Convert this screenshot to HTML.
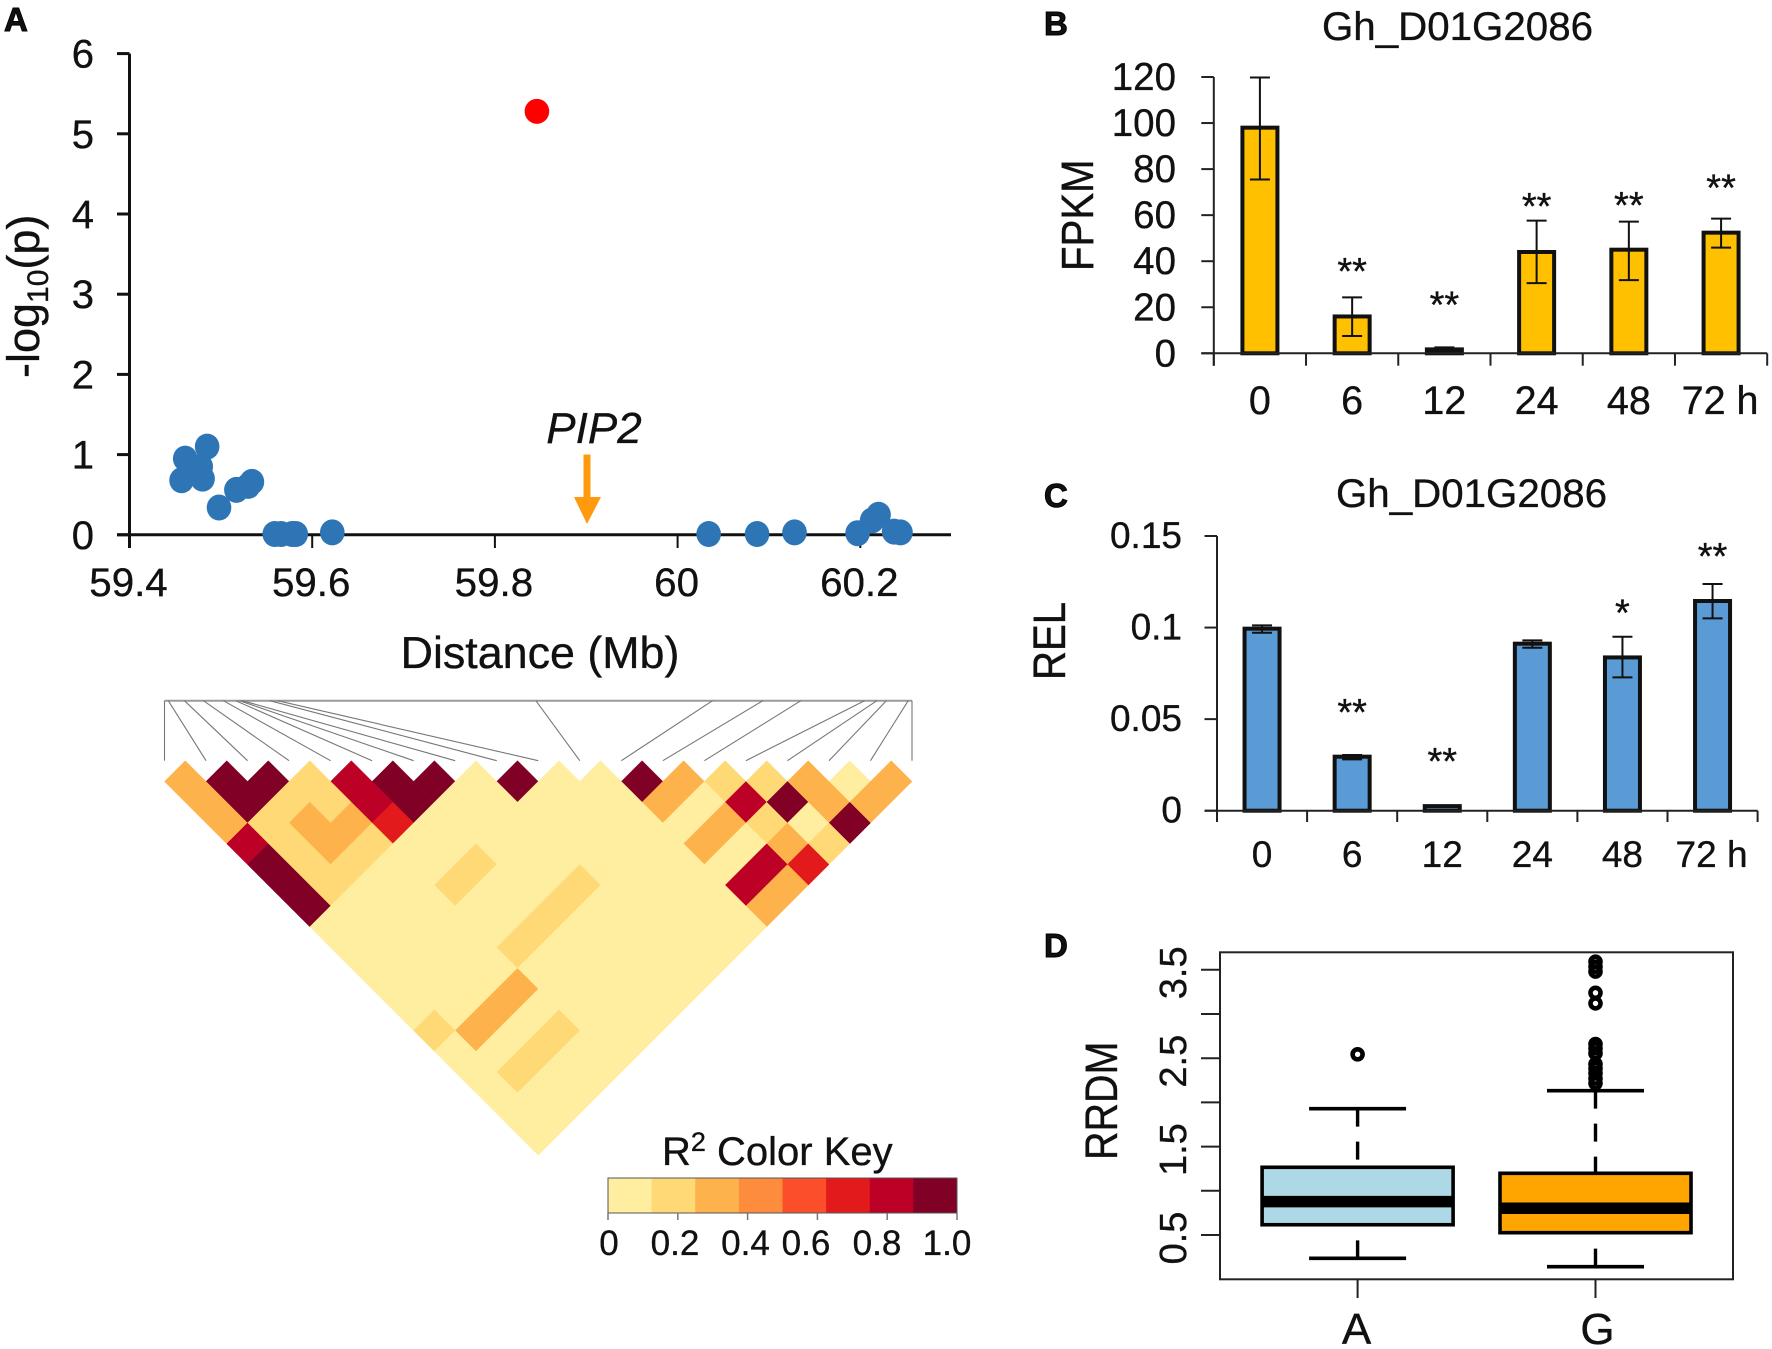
<!DOCTYPE html>
<html>
<head>
<meta charset="utf-8">
<title>Association, expression and haplotype panels</title>
<style>
html,body{margin:0;padding:0;background:#fff;}
svg{display:block;}
text{font-family:"Liberation Sans",Arial,sans-serif;fill:#111;stroke:#111;stroke-width:0.35px;}
</style>
</head>
<body>
<svg id="fig" xmlns="http://www.w3.org/2000/svg" width="1772" height="1349" viewBox="0 0 1772 1349">
  <rect x="0" y="0" width="1772" height="1349" fill="#fff"/>

  <g id="panelA">
    <text x="4" y="31" font-size="33" font-weight="bold" style="stroke:#000;stroke-width:1px">A</text>
    <text transform="translate(39 378) rotate(-90)" font-size="45">-log<tspan dy="9" font-size="30">10</tspan><tspan dy="-9">(p)</tspan></text>
    <text x="540" y="668" font-size="44.8" text-anchor="middle">Distance (Mb)</text>
    <text x="594" y="443" font-size="44" font-style="italic" text-anchor="middle">PIP2</text>
    <g>
      <rect x="583.5" y="454.5" width="7" height="43" fill="#ff9a0e"/>
      <polygon points="574,497 601,497 587,524" fill="#ff9a0e"/>
    </g>
  </g>

  <g id="panelLD"></g>

  <g id="colorKey">
    <text x="662" y="1165" font-size="40">R<tspan dy="-14" font-size="27">2</tspan><tspan dy="14"> Color Key</tspan></text>
    <text x="609" y="1255" font-size="35" text-anchor="middle">0</text>
    <text x="675" y="1255" font-size="35" text-anchor="middle">0.2</text>
    <text x="745.5" y="1255" font-size="35" text-anchor="middle">0.4</text>
    <text x="806" y="1255" font-size="35" text-anchor="middle">0.6</text>
    <text x="877" y="1255" font-size="35" text-anchor="middle">0.8</text>
    <text x="947" y="1255" font-size="35" text-anchor="middle">1.0</text>
  </g>

  <g id="panelB">
    <text x="1044" y="35" font-size="33" font-weight="bold" style="stroke:#000;stroke-width:1px">B</text>
    <text x="1457.5" y="40" font-size="40.3" text-anchor="middle">Gh_D01G2086</text>
    <text transform="translate(1093 271) rotate(-90) scale(1.03 1.16)" font-size="39">FPKM</text>
  </g>

  <g id="panelC">
    <text x="1044" y="507" font-size="33" font-weight="bold" style="stroke:#000;stroke-width:1px">C</text>
    <text x="1471.5" y="507" font-size="40.3" text-anchor="middle">Gh_D01G2086</text>
    <text transform="translate(1065 680) rotate(-90) scale(1.03 1.16)" font-size="39">REL</text>
  </g>

  <g id="panelD">
    <text x="1044" y="957" font-size="33" font-weight="bold" style="stroke:#000;stroke-width:1px">D</text>
    <text transform="translate(1117 1160) rotate(-90) scale(1.0 1.14)" font-size="39.5">RRDM</text>
  </g>
</svg>

<script>
// ---------- Panel A data ----------
const gwasMb = [59.485,59.461,59.478,59.457,59.480,59.498,59.517,59.534,59.530,59.559,59.566,59.578,59.582,59.622,60.034,60.087,60.128,60.197,60.213,60.220,60.237,60.244];
const gwasLogP = [1.10,0.95,0.85,0.68,0.70,0.34,0.56,0.66,0.61,0.01,0.01,0.01,0.01,0.03,0.01,0.01,0.03,0.02,0.18,0.25,0.04,0.03];
const leadMb = [59.846];
const leadLogP = [5.28];
const gwasXTicks = [59.4,59.6,59.8,60,60.2];
const gwasXLabels = ['59.4','59.6','59.8','60','60.2'];
const gwasYTicks = [0,1,2,3,4,5,6];

// ---------- LD heatmap data ----------
const snpMb = [59.457,59.461,59.478,59.498,59.519,59.532,59.536,59.539,59.568,59.576,59.848,60.034,60.087,60.127,60.194,60.207,60.217,60.240,60.244];
const ldRow1 = [.3,.95,.95,.2,.8,.95,.95,.05,.95,.05,.05,.95,.3,.2,.2,.3,.05,.3];
const ldRow2 = [.3,.95,.2,.2,.8,.95,.05,.05,.05,.05,.05,.3,.05,.8,.95,.3,.3];
const ldRow3 = [.3,.2,.3,.3,.7,.05,.05,.05,.05,.05,.05,.05,.3,.2,.05,.95];
const ldRow4 = [.8,.2,.3,.2,.05,.05,.05,.05,.05,.05,.05,.3,.05,.3,.2];
const ldRow5 = [.95,.2,.2,.05,.05,.2,.05,.05,.05,.05,.05,.05,.8,.7];
const ldRow6 = [.95,.2,.05,.05,.2,.05,.05,.2,.05,.05,.05,.8,.3];
const ldRow7 = [.95,.05,.05,.05,.05,.05,.2,.05,.05,.05,.05,.3];
const ldRow8 = [.05,.05,.05,.05,.05,.2,.05,.05,.05,.05,.05];
const ldRow9 = [.05,.05,.05,.05,.2,.05,.05,.05,.05,.05];
const ldRow10 = [.05,.05,.05,.05,.05,.05,.05,.05,.05];
const ldRow11 = [.05,.05,.05,.3,.05,.05,.05,.05];
const ldRow12 = [.05,.05,.3,.05,.05,.05,.05];
const ldRow13 = [.2,.3,.05,.2,.05,.05];
const ldRow14 = [.05,.05,.2,.05,.05];
const ldRow15 = [.05,.2,.05,.05];
const ldRow16 = [.05,.05,.05];
const ldRow17 = [.05,.05];
const ldRow18 = [.05];
const ldRows = [ldRow1,ldRow2,ldRow3,ldRow4,ldRow5,ldRow6,ldRow7,ldRow8,ldRow9,ldRow10,ldRow11,ldRow12,ldRow13,ldRow14,ldRow15,ldRow16,ldRow17,ldRow18];
const keyColors = ['#ffeda0','#fed976','#feb24c','#fd8d3c','#fc4e2a','#e31a1c','#bd0026','#800026'];
const keyTicks = [0,0.2,0.4,0.6,0.8,1];

// ---------- Panel B data ----------
const fpkmCategories = ['0','6','12','24','48','72 h'];
const fpkmValues = [98,16,1.7,44,45,52.4];
const fpkmErrHigh = [119.8,24.3,2.6,57.6,57.2,58.5];
const fpkmErrLow = [75.5,7.5,0.8,30.5,31.8,45.9];
const fpkmStars = ['','**','**','**','**','**'];
const fpkmStarLevels = [0,40.5,26,68.7,69.1,76.7];
const fpkmYTicks = [0,20,40,60,80,100,120];
const fpkmYLabels = ['0','20','40','60','80','100','120'];

// ---------- Panel C data ----------
const relCategories = ['0','6','12','24','48','72 h'];
const relValues = [0.0994,0.0295,0.0025,0.0912,0.0837,0.1145];
const relErrHigh = [0.1012,0.0304,0.0025,0.093,0.095,0.1238];
const relErrLow = [0.0972,0.028,0.0025,0.089,0.0728,0.105];
const relStars = ['','**','**','','*','**'];
const relStarLevels = [0,0.06,0.0331,0,0.1141,0.145];
const relYTicks = [0,0.05,0.1,0.15];
const relYLabels = ['0','0.05','0.1','0.15'];

// ---------- Panel D data ----------
const alleleLabels = ['A','G'];
const boxQ1 = [0.616,0.526];
const boxMedian = [0.877,0.802];
const boxQ3 = [1.266,1.198];
const whiskerLow = [0.236,0.142];
const whiskerHigh = [1.929,2.133];
const outliersA = [2.544];
const outliersG = [3.592,3.535,3.48,3.24,3.12,2.66,2.61,2.555,2.434,2.385,2.33,2.27,2.216];
const boxFills = ['#add8e6','#ffa500'];
const rrdmTicks = [0.5,1,1.5,2,2.5,3,3.5];
const rrdmTickLabels = ['0.5','','1.5','','2.5','','3.5'];

// ---------- helpers ----------
const NS = 'http://www.w3.org/2000/svg';
function mk(tag, attrs, parent){
  const e = document.createElementNS(NS, tag);
  for (const k in attrs) e.setAttribute(k, attrs[k]);
  parent.appendChild(e);
  return e;
}
function line(parent,x1,y1,x2,y2,stroke,w){
  return mk('line',{x1:x1,y1:y1,x2:x2,y2:y2,stroke:stroke,'stroke-width':w},parent);
}
function label(parent,x,y,str,size,anchor){
  const e = mk('text',{x:x,y:y,'font-size':size,'text-anchor':anchor},parent);
  e.textContent = str;
  return e;
}

// ---------- Panel A ----------
(function(){
  const p = document.getElementById('panelA');
  const xA = v => 129.5 + (v-59.4)/0.2*182.7;
  const yA = v => 534.8 - v*80.2;
  let el;
  el = line(p,129.5,yA(6),129.5,548,'#111',3);
  
  
  el = line(p,117,yA(0),951,yA(0),'#111',3);
  
  
  gwasYTicks.forEach(t=>{
    let e = line(p,117,yA(t),129.5,yA(t),'#111',3);
    
    
    e = label(p,94,yA(t)+14,String(t),40,'end');
    
    
  });
  gwasXTicks.forEach((t,i)=>{
    let e = line(p,xA(t),yA(0),xA(t),548,'#111',2);
    
    
    e = label(p,xA(t)-1,596,gwasXLabels[i],40.3,'middle');
    
    
  });
  gwasMb.forEach((m,i)=>{
    const c = mk('ellipse',{cx:xA(m),cy:yA(gwasLogP[i]),rx:12.3,ry:13,fill:'#2e75b6'},p);
    
    
  });
  leadMb.forEach((m,i)=>{
    const c = mk('ellipse',{cx:xA(m),cy:yA(leadLogP[i]),rx:12.3,ry:12.5,fill:'#ff0000'},p);
    
    
  });
})();

// ---------- LD heatmap ----------
(function(){
  const p = document.getElementById('panelLD');
  const left = 164.5, right = 912, top = 700.7, conn = 760.7;
  const h = (right-left)/36;
  const first = snpMb[0], last = snpMb[snpMb.length-1];
  const xTop = m => left + (m-first)/(last-first)*(right-left);
  const slot = j => left + 2*j*h;
  let el = line(p,left,top,right,top,'#9a9a9a',2);
  
  
  snpMb.forEach((m,j)=>{
    const e = line(p,xTop(m),top,slot(j),conn,'#777',1.1);
    
    
  });
  ldRows.forEach((row,r)=>{
    const d = r+1;
    row.forEach((v,i)=>{
      const cx = left + (2*i+d)*h;
      const cy = conn + d*h;
      const col = keyColors[Math.min(7,Math.floor(v*8))];
      const pts = [[cx,cy-h],[cx+h,cy],[cx,cy+h],[cx-h,cy]].map(q=>q.join(',')).join(' ');
      const c = mk('polygon',{points:pts,fill:col,stroke:col,'stroke-width':0.5},p);
      
      
    });
  });

  const k = document.getElementById('colorKey');
  const kx0 = 608, kx1 = 957, ky0 = 1178, ky1 = 1213;
  const kw = (kx1-kx0)/keyColors.length;
  keyColors.forEach((c,i)=>{
    const r = mk('rect',{x:kx0+i*kw,y:ky0,width:kw+0.4,height:ky1-ky0,fill:c},k);
    
    
  });
  const frame = mk('rect',{x:kx0,y:ky0,width:kx1-kx0,height:ky1-ky0,fill:'none',stroke:'#555','stroke-width':1},k);
  
  
  keyTicks.forEach(t=>{
    const x = kx0+t*(kx1-kx0);
    const e = line(k,x,ky1,x,ky1+7,'#777',1.5);
    
    
  });
})();

// ---------- Bar panels ----------
function drawBars(p,cfg,cats,vals,hi,lo,stars,starLv,yTicks,yLabels){
  const y = v => cfg.y0 - v/cfg.vmax*(cfg.y0-cfg.yTop);
  const step = (cfg.xEnd-cfg.x0)/cats.length;
  let el;
  el = line(p,cfg.x0,cfg.yTop,cfg.x0,cfg.tickEnd,'#222',2);
  
  
  yTicks.forEach((t,i)=>{
    let e = line(p,cfg.x0-12.5,y(t),cfg.x0,y(t),'#222',2);
    
    
    e = label(p,cfg.yLabelX,y(t)+cfg.yLabelDy,yLabels[i],cfg.yFont,'end');
    
    
  });
  cats.forEach((c,i)=>{
    const cx = cfg.x0+(i+0.5)*step;
    const top = y(vals[i]);
    const r = mk('rect',{x:cx-17.5,y:top,width:35,height:cfg.y0-top,fill:cfg.fill,stroke:'#111','stroke-width':4},p);
    
    
    if (hi[i]!==lo[i]){
      const g = mk('g',{},p);
      
      
      line(g,cx,y(hi[i]),cx,y(lo[i]),'#111',2);
      line(g,cx-10,y(hi[i]),cx+10,y(hi[i]),'#111',2);
      line(g,cx-10,y(lo[i]),cx+10,y(lo[i]),'#111',2);
    }
    if (stars[i]){
      const s = label(p,cx,y(starLv[i])+24,stars[i],38,'middle');
      
      
    }
    const t = label(p,cx-(i===5?1:0),cfg.xLabelY,c,cfg.xFont,'middle');
    
    
  });
  for (let i=0;i<=cats.length;i++){
    const x = cfg.x0+i*step;
    const e = line(p,x,cfg.y0,x,cfg.tickEnd,'#222',2);
    
    
  }
  el = line(p,cfg.x0-12.5,cfg.y0,cfg.xEnd,cfg.y0,'#222',2);
  
  
}
drawBars(document.getElementById('panelB'),
  {x0:1213.8,xEnd:1767.2,y0:353.3,yTop:77,vmax:120,tickEnd:365.7,fill:'#ffc000',yLabelX:1176,yLabelDy:13,yFont:38.5,xLabelY:414,xFont:39.5},
  fpkmCategories,fpkmValues,fpkmErrHigh,fpkmErrLow,fpkmStars,fpkmStarLevels,fpkmYTicks,fpkmYLabels);
drawBars(document.getElementById('panelC'),
  {x0:1217,xEnd:1757.6,y0:810.7,yTop:536,vmax:0.15,tickEnd:822,fill:'#5b9bd5',yLabelX:1182,yLabelDy:12,yFont:37,xLabelY:867,xFont:37},
  relCategories,relValues,relErrHigh,relErrLow,relStars,relStarLevels,relYTicks,relYLabels);

// ---------- Boxplot ----------
(function(){
  const p = document.getElementById('panelD');
  const y = v => 1235 - (v-0.5)*88.4;
  const centers = [1357.6,1595.5];
  const halfW = 95.5, capW = 48.5;
  const outliers = [outliersA,outliersG];
  const frame = mk('rect',{x:1220,y:952.3,width:513,height:327,fill:'none',stroke:'#222','stroke-width':2},p);
  
  
  rrdmTicks.forEach((t,i)=>{
    const e = line(p,1201,y(t),1220,y(t),'#222',2);
    
    
    if (rrdmTickLabels[i]){
      const tx = mk('text',{transform:'translate(1186 '+(y(t)+3)+') rotate(-90)','font-size':38,'text-anchor':'middle'},p);
      tx.textContent = rrdmTickLabels[i];
      
      
    }
  });
  alleleLabels.forEach((a,i)=>{
    const c = centers[i];
    let e;
    e = line(p,c,1279.3,c,1298,'#222',2);
    
    
    e = label(p,c+(i?2:-1),1344,a,44,'middle');
    
    
    e = mk('line',{x1:c,y1:y(whiskerHigh[i]),x2:c,y2:y(boxQ3[i]),stroke:'#000','stroke-width':3.4,'stroke-dasharray':'18 15'},p);
    
    
    e = mk('line',{x1:c,y1:y(whiskerLow[i]),x2:c,y2:y(boxQ1[i]),stroke:'#000','stroke-width':3.4,'stroke-dasharray':'18 15'},p);
    
    
    e = line(p,c-capW,y(whiskerHigh[i]),c+capW,y(whiskerHigh[i]),'#000',3.6);
    
    
    e = line(p,c-capW,y(whiskerLow[i]),c+capW,y(whiskerLow[i]),'#000',3.6);
    
    
    e = mk('rect',{x:c-halfW,y:y(boxQ3[i]),width:2*halfW,height:y(boxQ1[i])-y(boxQ3[i]),fill:boxFills[i],stroke:'#000','stroke-width':3.6},p);
    
    
    e = line(p,c-halfW,y(boxMedian[i]),c+halfW,y(boxMedian[i]),'#000',11.5);
    
    
    outliers[i].forEach(v=>{
      const o = mk('circle',{cx:c,cy:y(v),r:5,fill:'none',stroke:'#000','stroke-width':4.6},p);
      
      
    });
  });
})();
</script>
</body>
</html>
